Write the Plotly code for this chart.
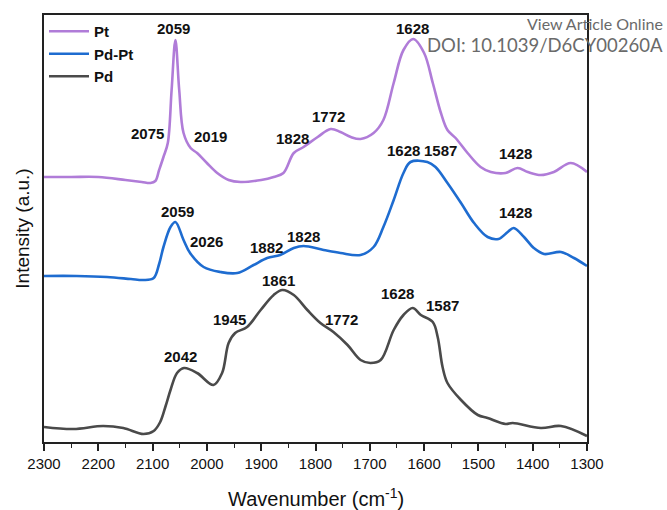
import plotly.graph_objects as go

# ---- data (wavenumber, intensity in arbitrary units) ----
pt_w = [2300, 2250, 2200, 2150, 2120, 2104, 2095, 2088, 2080, 2072, 2065, 2058, 2051, 2043, 2030, 2018, 2000, 1981,
        1960, 1938, 1900, 1877, 1859, 1840, 1822, 1796, 1772, 1754, 1735, 1717, 1693, 1675, 1656,
        1638, 1620, 1600, 1584, 1569, 1557, 1542, 1520, 1496, 1477, 1450, 1428, 1409, 1385, 1361,
        1330, 1300]
pt_i = [265, 265, 265, 262, 260, 259, 261, 272, 285, 299, 352, 402, 352, 309, 294, 289, 279, 269,
        262, 260, 262, 265, 269, 289, 295, 305, 313, 310, 305, 303, 309, 322, 359,
        392, 403, 389, 359, 329, 312, 304, 289, 275, 270, 269, 274, 270, 267, 270,
        279, 270]

pdpt_w = [2300, 2240, 2184, 2140, 2117, 2098, 2088, 2080, 2067, 2058, 2043, 2031, 2006, 1975, 1944, 1914, 1889, 1865,
          1840, 1822, 1785, 1754, 1717, 1693, 1675, 1656, 1638, 1625, 1594, 1579, 1557, 1532, 1508,
          1483, 1463, 1446, 1435, 1416, 1398, 1379, 1348, 1324, 1300]
pdpt_i = [166, 166, 165, 163, 162, 164, 178, 195, 215, 220, 202, 189, 175, 170, 169, 177, 184, 187,
          194, 196, 192, 189, 187, 195, 215, 242, 269, 280, 280, 275, 259, 239, 219,
          205, 203, 210, 214, 205, 194, 188, 190, 184, 176]

pd_w = [2300, 2246, 2191, 2154, 2117, 2098, 2086, 2076, 2067, 2055, 2042, 2018, 1988, 1972, 1960, 1948,
        1926, 1901, 1877, 1861, 1840, 1815, 1791, 1767, 1741, 1717, 1699, 1680, 1656, 1638, 1621,
        1606, 1584, 1575, 1566, 1557, 1532, 1501, 1483, 1450, 1437, 1385, 1348, 1300]
pd_i = [15, 13, 16, 14, 8, 11, 20, 36, 52, 69, 74, 69, 57, 69, 99, 109,
        115, 132, 147, 152, 147, 132, 119, 110, 97, 82, 79, 82, 112, 127, 134,
        127, 120, 105, 75, 59, 42, 27, 24, 18, 19, 14, 16, 6]

series_names = ["Pt", "Pd-Pt", "Pd"]

# peak labels: (text, wavenumber position, intensity position)
label_text = ["2059", "2075", "2019", "1828", "1772", "1628", "1428",
              "2059", "2026", "1882", "1828", "1628", "1587", "1428",
              "1861", "1945", "1772", "2042", "1628", "1587"]
label_w = [2062, 2110, 1994, 1842, 1776, 1621, 1431,
           2055, 2001, 1890, 1822, 1638, 1569, 1431,
           1868, 1959, 1752, 2049, 1649, 1566]
label_i = [414, 309, 306, 304, 326, 414, 289,
           231, 201, 195, 206, 292, 292, 230,
           162, 123, 123, 86, 149, 137]

x_ticks = [2300, 2200, 2100, 2000, 1900, 1800, 1700, 1600, 1500, 1400, 1300]

colors = ["#B07CD8", "#1E6CD0", "#4A4A4A"]

fig = go.Figure()
for name, w, i, c in zip(series_names, [pt_w, pdpt_w, pd_w], [pt_i, pdpt_i, pd_i], colors):
    fig.add_trace(go.Scatter(x=w, y=i, mode="lines", name=name,
                             line=dict(color=c, width=2.6, shape="spline", smoothing=1.0)))

for t, w, i in zip(label_text, label_w, label_i):
    fig.add_annotation(x=w, y=i, text=t, showarrow=False,
                       font=dict(family="Liberation Sans, Arial", size=15, color="#111", weight="bold"))

fig.add_annotation(xref="paper", yref="paper", x=1.1436, y=0.979, yanchor="middle", xanchor="right",
                   text="View Article Online", showarrow=False,
                   font=dict(family="Lato", size=16, color="#6a6a6a"))
fig.add_annotation(xref="paper", yref="paper", x=1.1436, y=0.930, yanchor="middle", xanchor="right",
                   text="DOI: 10.1039/D6CY00260A", showarrow=False,
                   font=dict(family="Lato", size=18.5, color="#6a6a6a"))

# x-axis title placed as annotation to match vertical position
fig.add_annotation(xref="paper", yref="paper", x=0.5, y=-0.129, yanchor="middle", xanchor="center",
                   text="Wavenumber (cm<sup>-1</sup>)", showarrow=False,
                   font=dict(family="Liberation Sans, Arial", size=20, color="#111"))

axis_font = dict(family="Liberation Sans, Arial", color="#111")
fig.update_layout(
    width=667, height=510,
    margin=dict(l=44, r=80, t=15, b=68),
    paper_bgcolor="white", plot_bgcolor="white",
    font=axis_font,
    legend=dict(x=0, y=1, xanchor="left", yanchor="top", bgcolor="rgba(0,0,0,0)",
                font=dict(family="Liberation Sans, Arial", size=15, color="#111", weight="bold"),
                itemwidth=40, tracegroupgap=0),
    xaxis=dict(range=[2300, 1300], tickvals=x_ticks, ticks="outside", ticklen=7, tickwidth=1.5,
               tickcolor="#222", showline=True, linecolor="#222", linewidth=1.5, mirror=True,
               showgrid=False, zeroline=False, tickfont=dict(size=15),
               minor=dict(dtick=50, tick0=2300, ticks="outside", ticklen=4, tickwidth=1.2, tickcolor="#222")),
    yaxis=dict(range=[0, 427], showticklabels=False, ticks="", showline=True, linecolor="#222",
               linewidth=1.5, mirror=True, showgrid=False, zeroline=False,
               title=dict(text="Intensity (a.u.)", font=dict(size=19), standoff=8)),
)

fig.write_html("out.html")
